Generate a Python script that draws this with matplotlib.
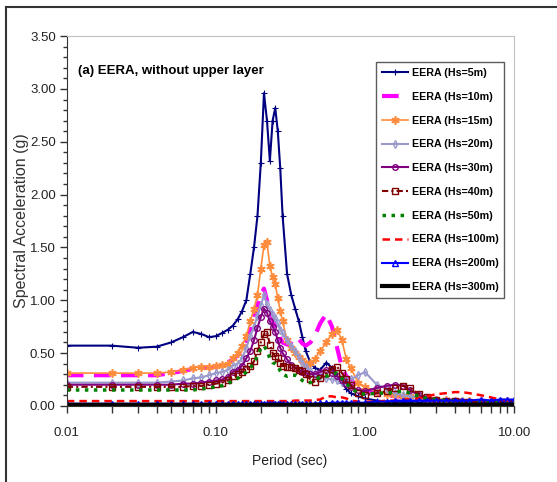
import matplotlib
matplotlib.use("Agg")
import matplotlib.pyplot as plt
from matplotlib.lines import Line2D
from matplotlib.ticker import FixedLocator, MultipleLocator, FuncFormatter, NullFormatter

FONT = ['Liberation Sans', 'DejaVu Sans']

# Period grid (sec)
period = [0.01, 0.02, 0.03, 0.04, 0.05, 0.06, 0.07, 0.08, 0.09, 0.10,
          0.11, 0.12, 0.13, 0.14, 0.15, 0.16, 0.17, 0.18, 0.19, 0.20,
          0.21, 0.22, 0.23, 0.24, 0.25, 0.26, 0.27, 0.28, 0.30, 0.32,
          0.34, 0.36, 0.38, 0.40, 0.43, 0.46, 0.50, 0.55, 0.60, 0.65,
          0.70, 0.75, 0.80, 0.90, 1.0, 1.2, 1.4, 1.6, 1.8, 2.0,
          2.3, 2.6, 3.0, 3.5, 4.0, 4.5, 5.0, 6.0, 7.0, 8.0,
          9.0, 10.0]

# Spectral acceleration (g) for each soil thickness
sa_5m = [0.57, 0.57, 0.55, 0.56, 0.60, 0.65, 0.70, 0.68, 0.65, 0.66,
         0.69, 0.72, 0.76, 0.82, 0.90, 1.00, 1.25, 1.50, 1.80, 2.30,
         2.96, 2.70, 2.32, 2.70, 2.82, 2.60, 2.25, 1.80, 1.25, 1.05,
         0.92, 0.80, 0.65, 0.52, 0.41, 0.36, 0.34, 0.41, 0.36, 0.28,
         0.22, 0.16, 0.12, 0.09, 0.07, 0.05, 0.04, 0.04, 0.04, 0.04,
         0.04, 0.04, 0.04, 0.04, 0.04, 0.04, 0.04, 0.04, 0.04, 0.04,
         0.04, 0.04]
sa_10m = [0.29, 0.29, 0.29, 0.29, 0.31, 0.33, 0.35, 0.36, 0.36, 0.37,
          0.39, 0.41, 0.44, 0.48, 0.54, 0.62, 0.72, 0.84, 0.95, 1.05,
          1.11, 1.00, 0.92, 0.82, 0.75, 0.70, 0.64, 0.60, 0.58, 0.60,
          0.65, 0.63, 0.59, 0.57, 0.60, 0.66, 0.78, 0.87, 0.75, 0.55,
          0.36, 0.28, 0.24, 0.20, 0.15, 0.12, 0.10, 0.09, 0.09, 0.08,
          0.07, 0.06, 0.06, 0.05, 0.05, 0.05, 0.04, 0.04, 0.04, 0.04,
          0.04, 0.04]
sa_15m = [0.31, 0.31, 0.31, 0.31, 0.32, 0.34, 0.36, 0.37, 0.37, 0.38,
          0.39, 0.40, 0.45, 0.50, 0.57, 0.66, 0.80, 0.92, 1.05, 1.30,
          1.52, 1.55, 1.32, 1.22, 1.15, 1.02, 0.90, 0.80, 0.62, 0.55,
          0.50, 0.46, 0.43, 0.40, 0.41, 0.44, 0.52, 0.60, 0.68, 0.72,
          0.62, 0.44, 0.36, 0.22, 0.18, 0.14, 0.11, 0.10, 0.09, 0.09,
          0.08, 0.07, 0.06, 0.06, 0.05, 0.05, 0.05, 0.05, 0.04, 0.04,
          0.05, 0.05]
sa_20m = [0.22, 0.22, 0.22, 0.22, 0.23, 0.24, 0.26, 0.27, 0.29, 0.31,
          0.32, 0.34, 0.38, 0.40, 0.45, 0.55, 0.66, 0.75, 0.85, 0.95,
          1.05, 0.96, 0.91, 0.86, 0.83, 0.78, 0.72, 0.69, 0.62, 0.57,
          0.52, 0.46, 0.41, 0.37, 0.33, 0.30, 0.28, 0.26, 0.25, 0.24,
          0.23, 0.24, 0.25, 0.29, 0.32, 0.20, 0.16, 0.12, 0.10, 0.09,
          0.08, 0.07, 0.06, 0.05, 0.05, 0.05, 0.04, 0.04, 0.04, 0.04,
          0.04, 0.04]
sa_30m = [0.20, 0.20, 0.20, 0.20, 0.20, 0.21, 0.21, 0.22, 0.23, 0.24,
          0.25, 0.27, 0.32, 0.34, 0.38, 0.45, 0.52, 0.62, 0.74, 0.84,
          0.92, 0.88, 0.80, 0.75, 0.70, 0.62, 0.55, 0.50, 0.44, 0.39,
          0.36, 0.34, 0.32, 0.31, 0.30, 0.30, 0.32, 0.34, 0.31, 0.28,
          0.24, 0.21, 0.18, 0.15, 0.14, 0.17, 0.19, 0.20, 0.19, 0.15,
          0.10, 0.07, 0.06, 0.05, 0.04, 0.04, 0.04, 0.04, 0.04, 0.04,
          0.04, 0.04]
sa_40m = [0.18, 0.18, 0.18, 0.18, 0.18, 0.18, 0.19, 0.19, 0.20, 0.21,
          0.22, 0.24, 0.28, 0.30, 0.32, 0.35, 0.38, 0.42, 0.52, 0.60,
          0.68, 0.70, 0.58, 0.50, 0.47, 0.45, 0.41, 0.38, 0.37, 0.37,
          0.36, 0.34, 0.33, 0.30, 0.25, 0.23, 0.26, 0.31, 0.35, 0.37,
          0.31, 0.25, 0.20, 0.12, 0.10, 0.12, 0.14, 0.17, 0.19, 0.17,
          0.11, 0.08, 0.06, 0.05, 0.05, 0.04, 0.04, 0.03, 0.03, 0.03,
          0.03, 0.03]
sa_50m = [0.15, 0.15, 0.15, 0.15, 0.15, 0.15, 0.15, 0.16, 0.17, 0.18,
          0.19, 0.21, 0.24, 0.26, 0.29, 0.32, 0.36, 0.40, 0.48, 0.54,
          0.57, 0.52, 0.45, 0.41, 0.40, 0.38, 0.33, 0.30, 0.28, 0.29,
          0.29, 0.27, 0.24, 0.22, 0.22, 0.25, 0.27, 0.28, 0.30, 0.31,
          0.26, 0.21, 0.17, 0.12, 0.11, 0.12, 0.12, 0.13, 0.14, 0.12,
          0.09, 0.07, 0.06, 0.05, 0.05, 0.04, 0.04, 0.04, 0.04, 0.04,
          0.04, 0.04]
sa_100m = [0.045, 0.045, 0.045, 0.045, 0.045, 0.045, 0.045, 0.045, 0.045, 0.045,
           0.045, 0.045, 0.045, 0.045, 0.045, 0.045, 0.045, 0.045, 0.045, 0.045,
           0.045, 0.045, 0.045, 0.045, 0.045, 0.045, 0.045, 0.045, 0.045, 0.045,
           0.05, 0.05, 0.05, 0.05, 0.05, 0.055, 0.06, 0.09, 0.09, 0.08,
           0.08, 0.07, 0.05, 0.04, 0.04, 0.04, 0.05, 0.05, 0.06, 0.06,
           0.07, 0.09, 0.11, 0.12, 0.13, 0.13, 0.12, 0.10, 0.08, 0.06,
           0.05, 0.05]
sa_200m = [0.02, 0.02, 0.02, 0.02, 0.02, 0.02, 0.02, 0.02, 0.02, 0.02,
           0.02, 0.02, 0.02, 0.02, 0.02, 0.02, 0.02, 0.02, 0.02, 0.02,
           0.02, 0.02, 0.02, 0.02, 0.02, 0.02, 0.02, 0.02, 0.02, 0.02,
           0.02, 0.02, 0.02, 0.02, 0.02, 0.02, 0.025, 0.025, 0.03, 0.03,
           0.03, 0.03, 0.03, 0.03, 0.03, 0.04, 0.04, 0.05, 0.05, 0.05,
           0.05, 0.05, 0.05, 0.05, 0.05, 0.05, 0.05, 0.06, 0.05, 0.06,
           0.06, 0.06]
sa_300m = [0.01] * 40 + [0.012] * 22

labels = ['EERA (Hs=5m)', 'EERA (Hs=10m)', 'EERA (Hs=15m)', 'EERA (Hs=20m)',
          'EERA (Hs=30m)', 'EERA (Hs=40m)', 'EERA (Hs=50m)', 'EERA (Hs=100m)',
          'EERA (Hs=200m)', 'EERA (Hs=300m)']
series = [sa_5m, sa_10m, sa_15m, sa_20m, sa_30m, sa_40m, sa_50m,
          sa_100m, sa_200m, sa_300m]

styles = [
    dict(color='#000080', lw=1.5, ls='-', marker='+', ms=4, mew=0.8),
    dict(color='#FF00FF', lw=3.0, ls=(0, (4, 2.5)), marker=None),
    dict(color='#FF8C3C', lw=1.2, ls='-', marker=(6, 2, 0), ms=6, mew=1.2),
    dict(color='#9999CC', lw=1.5, ls='-', marker='d', ms=4, mfc='none', mew=1.0),
    dict(color='#800080', lw=1.5, ls='-', marker='o', ms=4, mfc='none', mew=1.0),
    dict(color='#800000', lw=1.5, ls=(0, (3, 1.5, 1, 1.5)), marker='s', ms=4.5, mfc='none', mew=1.0),
    dict(color='#008000', lw=2.5, ls=(0, (1, 1.6)), marker=None),
    dict(color='#FF0000', lw=1.8, ls=(0, (3, 2)), marker=None),
    dict(color='#0000FF', lw=1.5, ls='-', marker='^', ms=4, mfc='none', mew=1.0),
    dict(color='#000000', lw=3.0, ls='-', marker=None),
]

fig = plt.figure(figsize=(5.57, 4.82), dpi=100)
ax = fig.add_axes([0.120, 0.158, 0.803, 0.767])

for vals, lab, st in zip(series, labels, styles):
    ax.plot(period, vals, label=lab, **st)

ax.set_xscale('log')
ax.set_xlim(0.01, 10)
ax.set_ylim(0, 3.5)

ax.xaxis.set_major_locator(FixedLocator([0.01, 0.1, 1, 10]))
ax.xaxis.set_major_formatter(FuncFormatter(lambda v, p: f"{v:.2f}"))
ax.xaxis.set_minor_formatter(NullFormatter())
ax.yaxis.set_major_locator(MultipleLocator(0.5))
ax.yaxis.set_minor_locator(MultipleLocator(0.1))
ax.yaxis.set_major_formatter(FuncFormatter(lambda v, p: f"{v:.2f}"))

ax.tick_params(axis='both', which='both', direction='out', colors='#333333')
ax.tick_params(axis='x', which='both', length=5, width=1, pad=10)
ax.tick_params(axis='y', which='major', length=5, width=1, pad=3)
ax.tick_params(axis='y', which='minor', length=3, width=1)
for lbl in ax.get_xticklabels() + ax.get_yticklabels():
    lbl.set_family(FONT)
    lbl.set_fontsize(9.5)
    lbl.set_color('#222222')

ax.spines['top'].set_color('#C0C0C0')
ax.spines['right'].set_color('#C0C0C0')
ax.spines['left'].set_color('#333333')
ax.spines['bottom'].set_color('#333333')

ax.set_xlabel('Period (sec)', family=FONT, fontsize=10, color='#222222')
ax.xaxis.set_label_coords(0.499, -0.149)
ax.xaxis.label.set_va('center')
ax.set_ylabel('Spectral Acceleration (g)', family=FONT,
              fontsize=11.5, color='#333333')
ax.yaxis.set_label_coords(-0.102, 0.5)
ax.yaxis.label.set_va('center')

ax.text(0.025, 0.905, '(a) EERA, without upper layer', transform=ax.transAxes,
        family=FONT, fontsize=9.5, fontweight='bold', va='center', ha='left')

leg = ax.legend(loc='upper right', bbox_to_anchor=(0.978, 0.93), frameon=True,
                fancybox=False, prop={'family': FONT, 'weight': 'bold', 'size': 7.7},
                labelspacing=1.29, handlelength=2.5, handletextpad=0.3,
                borderpad=0.55, borderaxespad=0.0)
leg.get_frame().set_edgecolor('#333333')
leg.get_frame().set_linewidth(1.0)

# outer frame lines (top and left)
fig.add_artist(Line2D([0.010, 1.0], [0.985, 0.985], color='#333333', lw=1.5,
                      transform=fig.transFigure))
fig.add_artist(Line2D([0.010, 0.010], [0.0, 0.985], color='#333333', lw=1.5,
                      transform=fig.transFigure))

fig.savefig('out.png', dpi=100)
